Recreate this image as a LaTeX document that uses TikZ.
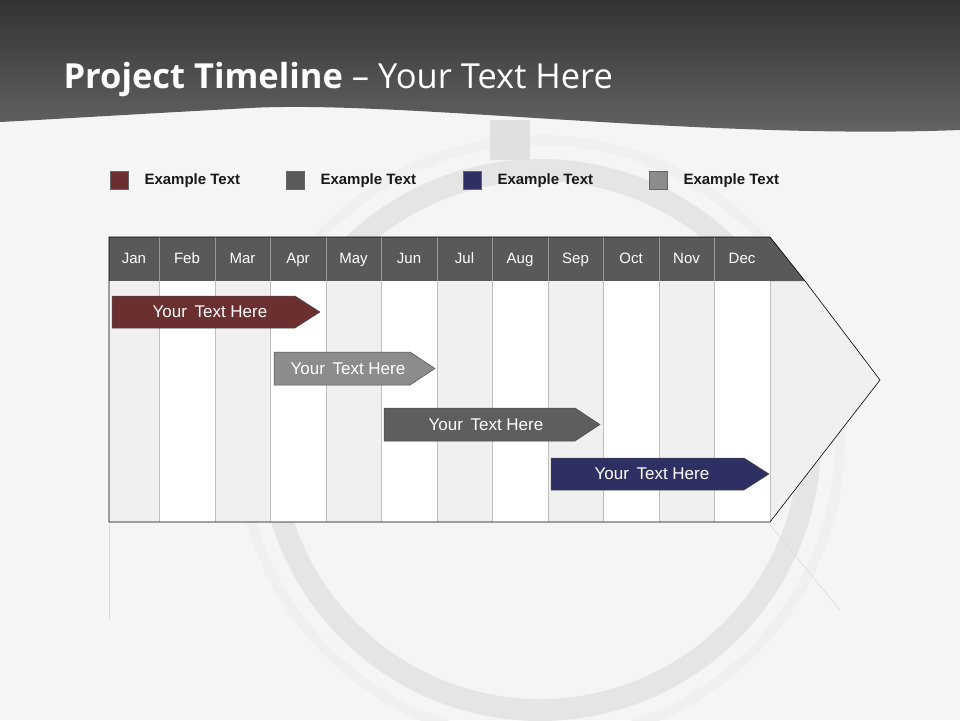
\documentclass[tikz,border=0pt]{standalone}
\usepackage{fontspec}
\setmainfont{Liberation Sans}
\newfontfamily\titlefont{Open Sans}
\begin{document}
\begin{tikzpicture}[x=1pt,y=-1pt,
  mon/.style={font=\fontsize{15}{17}\selectfont,text=white,text height=11pt,text depth=3pt},
  leg/.style={font=\fontsize{15}{17}\selectfont\bfseries,anchor=west,text=black!90},
  bar/.style={draw=black!70,line width=0.5pt},
  bartext/.style={font=\fontsize{17}{19}\selectfont,text=white}]
\useasboundingbox (0,0) rectangle (960,720);
\fill[white!96!black] (0,0) rectangle (960,720);
% faint wheel
\draw[black!10,line width=22pt] (540,440) circle (270);
\draw[black!6,line width=10pt] (540,440) circle (300);
\fill[black!12] (490,120) rectangle (530,160);
% header
\shade[top color=black!80,bottom color=black!60] (0,0) -- (960,0) -- (960,130) .. controls (700,140) and (400,100) .. (250,108) .. controls (120,115) and (40,120) .. (0,122) -- cycle;
\node[anchor=west,text=white,font=\fontsize{34.5}{38}\selectfont\titlefont] (title) at (60,80) {\textbf{Project Timeline} – Your Text Here};
% legend
\definecolor{cred}{HTML}{6B2F2F}\definecolor{cdg}{HTML}{5A5A5A}
\definecolor{cnv}{HTML}{2E2F63}\definecolor{clg}{HTML}{8C8C8C}
\foreach \x/\c/\n in {110/cred/a,286/cdg/b,463/cnv/c,649/clg/d}{
  \fill[\c,draw=black!60] (\x,171) rectangle +(18,18);
  \node[leg] (l\n) at (\x+31,181) {Example Text};}
% arrow body
\fill[white] (109,281) rectangle (770,522);
\foreach \a/\b in {109/159,215/270,326/381,437/492,548/603,659/714}
  \fill[black!6] (\a,281) rectangle (\b,522);
\fill[black!6] (770,281) -- (805,281) -- (880,380) -- (770,522) -- cycle;
\foreach \x in {159,215,270,326,381,437,492,548,603,659,714,770}
  \draw[black!25,line width=0.4pt] (\x,281) -- (\x,522);
\fill[black!65] (109,237) rectangle (770,281);
\fill[black!65] (770,237) -- (805,281) -- (770,281) -- cycle;
\foreach \x in {159,215,270,326,381,437,492,548,603,659,714}
  \draw[black!40,line width=0.4pt] (\x,237) -- (\x,281);
\draw[black,line width=0.6pt] (770,237) -- (805,281) -- (880,380) -- (770,522) -- (109,522) -- (109,237) -- (770,237);
\draw[black!15,line width=0.6pt] (109,525) -- (109,620);
\draw[black!15,line width=0.6pt] (770,525) -- (840,610);
\foreach \a/\b/\m in {109/159/Jan,159/215/Feb,215/270/Mar,270/326/Apr,326/381/May,381/437/Jun,437/492/Jul,492/548/Aug,548/603/Sep,603/659/Oct,659/714/Nov,714/770/Dec}
  \node[mon] (m\m) at ({(\a+\b)/2},259) {\m};
% bars
\fill[cred,bar] (112,296) -- (295,296) -- (320,312) -- (295,328) -- (112,328) -- cycle;
\node[bartext] (t1) at (210,312) {Your\, Text Here};
\fill[clg,bar] (274,352) -- (410,352) -- (435,368.5) -- (410,385) -- (274,385) -- cycle;
\node[bartext] (t2) at (348,368.5) {Your\, Text Here};
\fill[black!63,bar] (384,408) -- (575,408) -- (600,424.5) -- (575,441) -- (384,441) -- cycle;
\node[bartext] (t3) at (486,424.5) {Your\, Text Here};
\fill[cnv,bar] (551,458) -- (744,458) -- (769,474) -- (744,490) -- (551,490) -- cycle;
\node[bartext] (t4) at (652,474) {Your\, Text Here};
\end{tikzpicture}
\end{document}
